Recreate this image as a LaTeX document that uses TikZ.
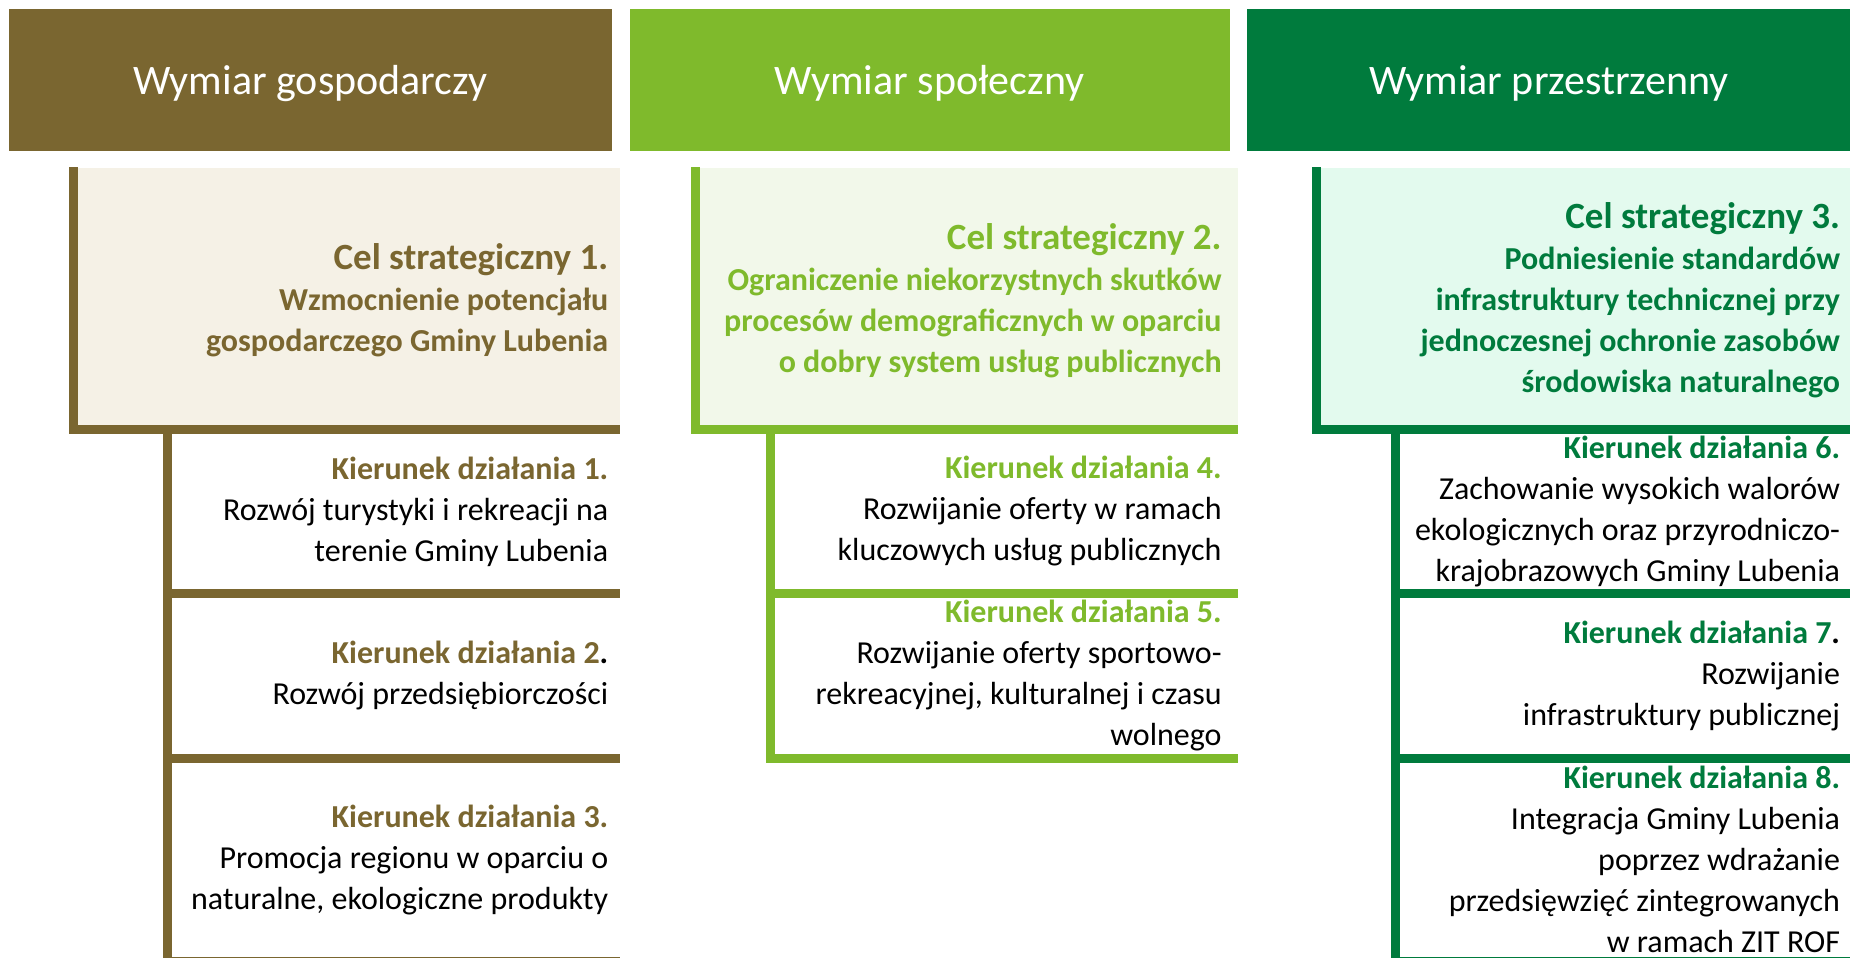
\documentclass[tikz,border=0pt]{standalone}
\usepackage{fontspec}
\setmainfont{Carlito}
\usepackage{tikz}
\usetikzlibrary{positioning}
\definecolor{braz}{RGB}{122,102,48}
\definecolor{zielen}{RGB}{127,186,44}
\definecolor{ciemnazielen}{RGB}{0,123,61}
\definecolor{brazjasny}{RGB}{245,241,230}
\definecolor{zielenjasna}{RGB}{242,248,234}
\definecolor{ciemnazielenjasna}{RGB}{227,250,238}
\tikzset{
	wymiar/.style={
		fill=#1, text=white, inner sep=0pt, minimum height=142pt, text depth=0pt,
		font=\fontsize{42}{50}\selectfont
	},
	pole/.style={
		fill=#1, inner sep=0pt, anchor=north west
	},
	opis/.style={
		inner sep=0pt, anchor=east, align=right, font=\fontsize{32}{41}\selectfont
	},
	celopis/.style={
		opis, text=#1, font=\fontsize{32}{41}\selectfont\bfseries
	},
	belka/.style={
		draw=#1, line width=9pt
	}
}
\newcommand{\celtytul}[1]{{\fontsize{37}{42}\selectfont #1}}
\newcommand{\kier}[2]{\textcolor{#1}{\textbf{Kierunek działania #2.}}}

\begin{document}
\begin{tikzpicture}[x=1pt, y=-1pt]
\useasboundingbox (0,0) rectangle (1850,958);
\clip (0,0) rectangle (1850,958);
\fill[white] (0,0) rectangle (1850,958);

% naglowki
\node[wymiar=braz, minimum width=603pt, anchor=north west] (wym1) at (9,9) {Wymiar gospodarczy};
\node[wymiar=zielen, minimum width=600pt, right=17pt of wym1] (wym2) {Wymiar społeczny};
\node[wymiar=ciemnazielen, minimum width=604pt, right=17pt of wym2] (wym3) {Wymiar przestrzenny};

% cele strategiczne
\node[pole=brazjasny, minimum width=551pt, minimum height=266pt, below right=16pt and 60pt of wym1.south west] (cel1) {};
\node[pole=zielenjasna, minimum width=546pt, minimum height=266pt, below right=16pt and 62pt of wym2.south west] (cel2) {};
\node[pole=ciemnazielenjasna, minimum width=539pt, minimum height=266pt, below right=16pt and 65pt of wym3.south west] (cel3) {};

% kierunki dzialania
\node[pole=white, minimum width=457pt, minimum height=155pt, below right=0pt and 94pt of cel1.south west] (kd1) {};
\node[pole=white, minimum width=457pt, minimum height=155pt, below right=9pt and 0pt of kd1.south west] (kd2) {};
\node[pole=white, minimum width=457pt, minimum height=194pt, below right=9pt and 0pt of kd2.south west] (kd3) {};

\node[pole=white, minimum width=471pt, minimum height=155pt, below right=0pt and 75pt of cel2.south west] (kd4) {};
\node[pole=white, minimum width=471pt, minimum height=155pt, below right=9pt and 0pt of kd4.south west] (kd5) {};

\node[pole=white, minimum width=460pt, minimum height=155pt, below right=0pt and 79pt of cel3.south west] (kd6) {};
\node[pole=white, minimum width=460pt, minimum height=155pt, below right=9pt and 0pt of kd6.south west] (kd7) {};
\node[pole=white, minimum width=460pt, minimum height=194pt, below right=9pt and 0pt of kd7.south west] (kd8) {};

% belki
\draw[belka=braz] ([xshift=4.5pt]cel1.north west) |- ([yshift=4.5pt]cel1.south east);
\draw[belka=zielen] ([xshift=4.5pt]cel2.north west) |- ([yshift=4.5pt]cel2.south east);
\draw[belka=ciemnazielen] ([xshift=4.5pt]cel3.north west) |- ([yshift=4.5pt]cel3.south east);
\foreach \k in {kd1,kd2,kd3}
	\draw[belka=braz] ([xshift=4.5pt]\k.north west) |- ([yshift=-4.5pt]\k.south east);
\foreach \k in {kd4,kd5}
	\draw[belka=zielen] ([xshift=4.5pt]\k.north west) |- ([yshift=-4.5pt]\k.south east);
\foreach \k in {kd6,kd7,kd8}
	\draw[belka=ciemnazielen] ([xshift=4.5pt]\k.north west) |- ([yshift=-4.5pt]\k.south east);

% opisy
\node[celopis=braz] (cel1-opis) at ([xshift=-12pt]cel1.east)
	{\celtytul{Cel strategiczny 1.}\\ Wzmocnienie potencjału\\ gospodarczego Gminy Lubenia};
\node[celopis=zielen] (cel2-opis) at ([xshift=-16pt]cel2.east)
	{\celtytul{Cel strategiczny 2.}\\ Ograniczenie niekorzystnych skutków\\ procesów demograficznych w oparciu\\ o dobry system usług publicznych};
\node[celopis=ciemnazielen] (cel3-opis) at ([xshift=-11pt]cel3.east)
	{\celtytul{Cel strategiczny 3.}\\ Podniesienie standardów\\ infrastruktury technicznej przy\\ jednoczesnej ochronie zasobów\\ środowiska naturalnego};

\node[opis] (kd1-opis) at ([xshift=-12pt]kd1.east)
	{\kier{braz}{1}\\ Rozwój turystyki i rekreacji na\\ terenie Gminy Lubenia};
\node[opis] (kd2-opis) at ([xshift=-12pt]kd2.east)
	{\textcolor{braz}{\textbf{Kierunek działania 2}}\textbf{.}\\ Rozwój przedsiębiorczości};
\node[opis] (kd3-opis) at ([xshift=-12pt]kd3.east)
	{\kier{braz}{3}\\ Promocja regionu w oparciu o\\ naturalne, ekologiczne produkty};

\node[opis] (kd4-opis) at ([xshift=-16pt]kd4.east)
	{\kier{zielen}{4}\\ Rozwijanie oferty w ramach\\ kluczowych usług publicznych};
\node[opis] (kd5-opis) at ([xshift=-16pt]kd5.east)
	{\kier{zielen}{5}\\ Rozwijanie oferty sportowo-\\ rekreacyjnej, kulturalnej i czasu\\ wolnego};

\node[opis] (kd6-opis) at ([xshift=-11pt]kd6.east)
	{\kier{ciemnazielen}{6}\\ Zachowanie wysokich walorów\\ ekologicznych oraz przyrodniczo-\\ krajobrazowych Gminy Lubenia};
\node[opis] (kd7-opis) at ([xshift=-11pt]kd7.east)
	{\textcolor{ciemnazielen}{\textbf{Kierunek działania 7}}\textbf{.}\\ Rozwijanie\\ infrastruktury publicznej};
\node[opis] (kd8-opis) at ([xshift=-11pt]kd8.east)
	{\kier{ciemnazielen}{8}\\ Integracja Gminy Lubenia\\ poprzez wdrażanie\\ przedsięwzięć zintegrowanych\\ w ramach ZIT ROF};
\end{tikzpicture}
\end{document}
